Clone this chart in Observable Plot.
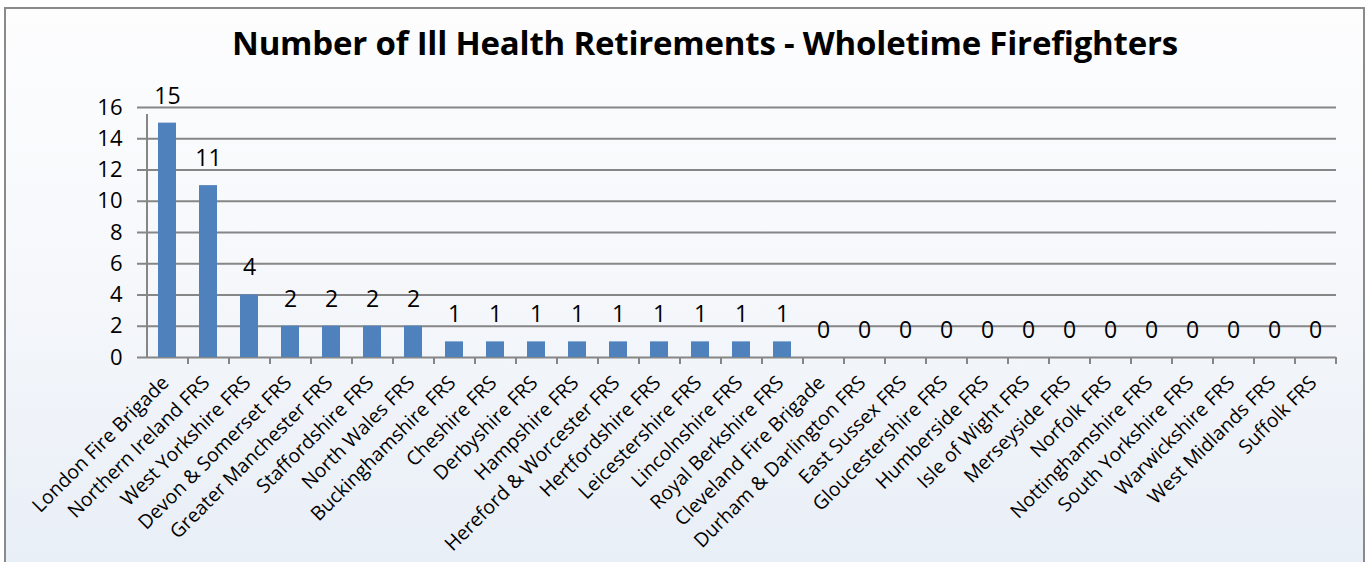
<!DOCTYPE html>
<html>
<head>
<meta charset="utf-8">
<script src="https://cdn.jsdelivr.net/npm/d3@7"></script>
<script src="https://cdn.jsdelivr.net/npm/@observablehq/plot@0.6"></script>
<style>
  html, body { margin: 0; padding: 0; background: #ffffff; }
  #wrap {
    position: relative; width: 1370px; height: 562px; overflow: hidden;
  }
  #panel {
    position: absolute; left: 4px; top: 7px; width: 1357px; height: 570px;
    border: 2px solid #8a8a8a;
    background: linear-gradient(to bottom, #fdfdfe 0%, #f6f8fb 45%, #e8eef7 100%);
  }
  #title {
    position: absolute; left: 0; top: 21px; width: 1410px; text-align: center;
    font-family: "Open Sans", sans-serif; font-weight: bold; font-size: 33px; color: #000;
    letter-spacing: -0.2px; line-height: 44px;
  }
  #chart { position: absolute; left: 0; top: 0; }
</style>
</head>
<body>
<div id="wrap">
  <div id="panel"></div>
  <div id="title">Number of Ill Health Retirements - Wholetime Firefighters</div>
  <div id="chart"></div>
</div>
<script>
const categories = [
  "London Fire Brigade", "Northern Ireland FRS", "West Yorkshire FRS", "Devon & Somerset FRS",
  "Greater Manchester FRS", "Staffordshire FRS", "North Wales FRS", "Buckinghamshire FRS",
  "Cheshire FRS", "Derbyshire FRS", "Hampshire FRS", "Hereford & Worcester FRS",
  "Hertfordshire FRS", "Leicestershire FRS", "Lincolnshire FRS", "Royal Berkshire FRS",
  "Cleveland Fire Brigade", "Durham & Darlington FRS", "East Sussex FRS", "Gloucestershire FRS",
  "Humberside FRS", "Isle of Wight FRS", "Merseyside FRS", "Norfolk FRS",
  "Nottinghamshire FRS", "South Yorkshire FRS", "Warwickshire FRS", "West Midlands FRS", "Suffolk FRS"
];
const values = [15, 11, 4, 2, 2, 2, 2, 1, 1, 1, 1, 1, 1, 1, 1, 1, 0, 0, 0, 0, 0, 0, 0, 0, 0, 0, 0, 0, 0];
const yTicks = [0, 2, 4, 6, 8, 10, 12, 14, 16];

const data = categories.map((c, i) => ({category: c, value: values[i]}));
const last = categories[categories.length - 1];
const W = 1370, H = 562, mL = 147, mR = 34;
const step = (W - mL - mR) / categories.length;
const font = "'Open Sans', sans-serif";

const chart = Plot.plot({
  width: W,
  height: H,
  marginLeft: mL,
  marginRight: mR,
  marginTop: 107,
  marginBottom: 205,
  style: {background: "transparent", fontFamily: font, color: "#000"},
  x: {domain: categories, paddingInner: 0.56, paddingOuter: 0.28, label: null},
  y: {domain: [0, 16], ticks: yTicks, label: null},
  marks: [
    Plot.ruleY(yTicks, {y: d => d, stroke: "#868686", strokeWidth: 2, strokeOpacity: 1, insetLeft: -10}),
    Plot.barY(data, {x: "category", y: "value", fill: "#4f81bd"}),
    Plot.ruleX(categories, {x: d => d, dx: -step / 2, y1: 0, y2: d => d === categories[0] ? 16 : 0, insetBottom: -7, stroke: "#868686", strokeWidth: 2}),
    Plot.ruleX([last], {x: d => d, dx: step / 2, y1: 0, y2: 0, insetBottom: -7, stroke: "#868686", strokeWidth: 2}),
    Plot.text(data, {x: "category", y: "value", text: d => String(d.value), dy: -27, fontSize: 23, fill: "#000", fontFamily: font}),
    Plot.axisY({ticks: yTicks, tickSize: 0, tickPadding: 25, fontSize: 22, fill: "#000", label: null}),
    Plot.axisX({tickSize: 0, tickRotate: -45, tickPadding: 22, fontSize: 19.5, fill: "#000", label: null, dx: -2})
  ]
});
document.getElementById("chart").appendChild(chart);
</script>
</body>
</html>
